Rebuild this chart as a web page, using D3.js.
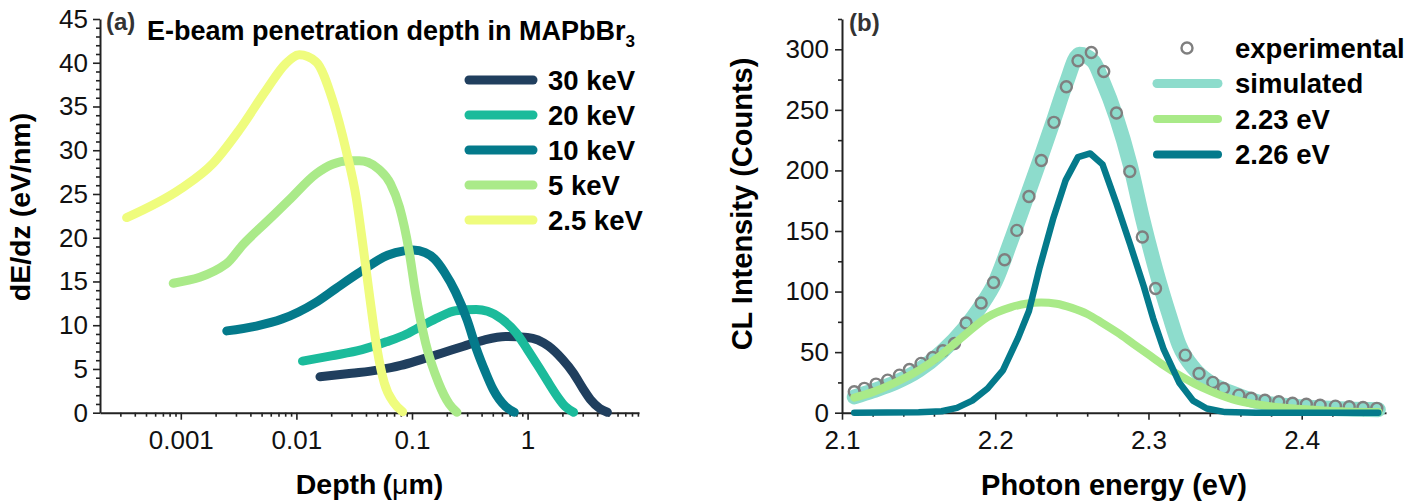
<!DOCTYPE html>
<html>
<head>
<meta charset="utf-8">
<script src="https://cdn.jsdelivr.net/npm/d3@7"></script>
<style>
  body { margin: 0; background: #fff; }
  text { font-family: "Liberation Sans", Arial, sans-serif; }
</style>
</head>
<body>
<div class="chart"></div>
<script>
const W = 1424, H = 504;

// ---- panel (a): e-beam energy loss vs depth ----
const beamLabels = ["30 keV", "20 keV", "10 keV", "5 keV", "2.5 keV"];
const beamColors = ["#203f5e", "#1bbb9b", "#047a8b", "#aaea89", "#effc7d"];

const depth30 = [0.016, 0.03, 0.052, 0.08, 0.121, 0.18, 0.28, 0.42, 0.645, 1.0, 1.52, 2.0, 2.5, 3.0, 3.5, 4.2, 4.9];
const dEdz30  = [4.1, 4.5, 4.9, 5.4, 6.1, 6.8, 7.6, 8.3, 8.7, 8.6, 7.6, 6.1, 4.5, 2.8, 1.5, 0.5, 0.05];

const depth20 = [0.0113, 0.02, 0.037, 0.06, 0.09, 0.121, 0.17, 0.238, 0.36, 0.45, 0.6, 0.8, 1.0, 1.25, 1.52, 1.8, 2.12, 2.5];
const dEdz20  = [5.9, 6.5, 7.2, 8.1, 9.0, 9.9, 10.9, 11.65, 11.8, 11.6, 10.7, 9.1, 7.2, 5.2, 3.4, 1.9, 0.7, 0.05];

const depth10 = [0.0025, 0.0045, 0.0075, 0.0147, 0.022, 0.034, 0.0615, 0.085, 0.102, 0.13, 0.156, 0.19, 0.238, 0.3, 0.363, 0.43, 0.506, 0.645, 0.767];
const dEdz10  = [9.35, 9.9, 10.7, 12.6, 14.2, 15.9, 18.0, 18.5, 18.6, 18.3, 17.6, 16.1, 13.8, 10.6, 7.2, 4.7, 2.6, 0.7, 0.05];

const depth5 = [0.00086, 0.00247, 0.0035, 0.0055, 0.00865, 0.0148, 0.0205, 0.0285, 0.035, 0.042, 0.052, 0.065, 0.078, 0.094, 0.107, 0.131, 0.17, 0.21, 0.245];
const dEdz5  = [14.8, 17.0, 19.3, 21.8, 24.3, 27.3, 28.4, 28.8, 28.8, 28.6, 27.8, 26.2, 23.5, 18.6, 13.8, 8.0, 3.4, 1.0, 0.05];

const depth25 = [0.00034, 0.001, 0.0019, 0.0032, 0.0055, 0.0081, 0.0106, 0.0148, 0.0206, 0.0269, 0.033, 0.038, 0.0433, 0.05, 0.0576, 0.07, 0.083];
const dEdz25  = [22.3, 25.6, 28.5, 32.3, 36.9, 39.9, 40.9, 40.1, 35.7, 30.0, 24.5, 18.7, 13.0, 7.2, 3.4, 1.1, 0.1];

const depthTicks = [0.001, 0.01, 0.1, 1];
const depthTickLabels = ["0.001", "0.01", "0.1", "1"];
const dEdzTicks = [0, 5, 10, 15, 20, 25, 30, 35, 40, 45];

// ---- panel (b): CL spectrum ----
const expEnergy = [2.108, 2.1146, 2.1222, 2.1298, 2.1375, 2.144, 2.1516, 2.1592, 2.1658, 2.1734, 2.181, 2.1908,
  2.1989, 2.2061, 2.2141, 2.222, 2.2301, 2.2383, 2.2464, 2.254, 2.2627, 2.2708, 2.2791, 2.2878, 2.296, 2.3046,
  2.324, 2.333, 2.342, 2.349, 2.359, 2.367, 2.376, 2.385, 2.394, 2.403, 2.412, 2.422, 2.431, 2.44, 2.449];
const expCounts = [17.3, 20.1, 23.6, 26.9, 31, 35.7, 40.7, 45.6, 51.1, 57.1, 74.1, 90.6,
  107.5, 126.3, 150.5, 178.5, 208.2, 239.7, 269.1, 290.5, 297.4, 281.7, 247.4, 199.1, 145, 102.5,
  47.5, 32.4, 25, 20, 14.5, 11.9, 10.3, 9, 7.8, 7, 6.2, 5.4, 4.9, 4.3, 3.6];

const simEnergy = [2.108, 2.12, 2.135, 2.15, 2.165, 2.18, 2.19, 2.2, 2.21, 2.22, 2.229, 2.238, 2.246, 2.255, 2.264,
  2.27, 2.279, 2.288, 2.296, 2.305, 2.314, 2.32, 2.33, 2.34, 2.355, 2.37, 2.39, 2.41, 2.43, 2.45];
const simCounts = [13, 18, 25, 35, 50, 70, 87, 108, 141, 176, 208, 241, 271, 296, 290,
  274, 244, 205, 161, 117, 79, 56, 36, 25, 16, 9.5, 6, 4, 3, 2.5];

const e223Energy = [2.108, 2.12, 2.135, 2.15, 2.165, 2.18, 2.195, 2.21, 2.22, 2.23, 2.24, 2.25, 2.26, 2.27,
  2.28, 2.29, 2.3, 2.31, 2.32, 2.33, 2.34, 2.355, 2.37, 2.385, 2.4, 2.42, 2.45];
const e223Counts = [12.5, 17, 25, 35, 48, 64, 79, 87, 90, 91, 90, 86.5, 81.5, 74,
  66, 57, 48, 39, 31, 24, 18, 11, 7, 4.5, 3, 1.5, 0.5];

const e226Energy = [2.108, 2.15, 2.165, 2.175, 2.185, 2.195, 2.205, 2.215, 2.222, 2.229, 2.238, 2.246, 2.254, 2.262,
  2.27, 2.279, 2.288, 2.297, 2.303, 2.31, 2.32, 2.329, 2.338, 2.35, 2.37, 2.45];
const e226Counts = [0, 0.3, 1.2, 4, 10, 20, 35, 62, 84, 120, 161, 192, 211, 214,
  205, 173, 139, 104, 78, 52, 25, 10, 3.5, 0.5, 0, 0];

const energyTicks = [2.1, 2.2, 2.3, 2.4];
const countTicks = [0, 50, 100, 150, 200, 250, 300];
const specLabels = ["experimental", "simulated", "2.23 eV", "2.26 eV"];
const specColors = ["#7f7f7f", "#8ddccc", "#a9ea88", "#047a8b"];

const svg = d3.select(".chart").append("svg")
  .attr("width", W)
  .attr("height", H);

function styleAxis(g, size) {
  g.attr("font-size", size).attr("font-family", "Liberation Sans, Arial, sans-serif");
  g.select(".domain").attr("stroke", "#222").attr("stroke-width", 2);
  g.selectAll(".tick line").attr("stroke", "#222").attr("stroke-width", 1.6);
  g.selectAll(".tick text").attr("fill", "#111");
}

// ================= panel (a) =================
const xA = d3.scaleLog().domain([0.0002, 9.2]).range([100, 639]);
const yA = d3.scaleLinear().domain([0, 45]).range([412.7, 19]);

let depthMinor = [];
for (let e = -4; e <= 0; e++)
  for (let k = 2; k <= 9; k++) {
    const v = k * Math.pow(10, e);
    if (v > 0.0002 && v < 9.2) depthMinor.push(v);
  }
const dEdzMinor = d3.range(0, 46).filter(v => v % 5 != 0);

svg.append("g").attr("transform", `translate(0,${yA(0)})`)
  .call(d3.axisBottom(xA).tickValues(depthMinor).tickSize(4).tickFormat(""))
  .call(g => g.select(".domain").remove())
  .call(g => styleAxis(g, 26));
svg.append("g").attr("transform", `translate(0,${yA(0)})`)
  .call(d3.axisBottom(xA).tickValues(depthTicks).tickSize(7).tickSizeOuter(0).tickPadding(11)
    .tickFormat((d, i) => depthTickLabels[i]))
  .call(g => styleAxis(g, 26));

svg.append("g").attr("transform", `translate(${xA.range()[0]},0)`)
  .call(d3.axisLeft(yA).tickValues(dEdzMinor).tickSize(4).tickFormat(""))
  .call(g => g.select(".domain").remove())
  .call(g => styleAxis(g, 26));
svg.append("g").attr("transform", `translate(${xA.range()[0]},0)`)
  .call(d3.axisLeft(yA).tickValues(dEdzTicks).tickSize(7).tickSizeOuter(0).tickPadding(5))
  .call(g => styleAxis(g, 26));

const beams = [
  {depth: depth30, val: dEdz30},
  {depth: depth20, val: dEdz20},
  {depth: depth10, val: dEdz10},
  {depth: depth5, val: dEdz5},
  {depth: depth25, val: dEdz25}
];

const lineA = d3.line().curve(d3.curveMonotoneX);
beams.forEach((b, i) => {
  svg.append("path")
    .attr("d", lineA(b.depth.map((d, j) => [xA(d), yA(b.val[j])])))
    .attr("fill", "none")
    .attr("stroke", beamColors[i])
    .attr("stroke-width", 9)
    .attr("stroke-linecap", "round")
    .attr("stroke-linejoin", "round");
});

// legend (a)
beamLabels.forEach((lab, i) => {
  const ly = 80 + i * 35;
  svg.append("line")
    .attr("x1", 469).attr("x2", 533).attr("y1", ly).attr("y2", ly)
    .attr("stroke", beamColors[i]).attr("stroke-width", 9).attr("stroke-linecap", "round");
  svg.append("text").attr("x", 548).attr("y", ly).attr("dy", "0.36em")
    .attr("font-size", 27.5).attr("font-weight", "bold").text(lab);
});

svg.append("text").attr("x", 106).attr("y", 30)
  .attr("font-size", 24).attr("font-weight", "bold").attr("fill", "#333").text("(a)");
const title = svg.append("text").attr("x", 147).attr("y", 40)
  .attr("font-size", 27).attr("font-weight", "bold");
title.append("tspan").text("E-beam penetration depth in MAPbBr");
title.append("tspan").attr("font-size", 17).attr("dy", 7).text("3");

const xTitleA = svg.append("text").attr("x", (xA.range()[0] + xA.range()[1]) / 2).attr("y", 494)
  .attr("text-anchor", "middle").attr("font-size", 28.5).attr("font-weight", "bold");
xTitleA.append("tspan").text("Depth");
xTitleA.append("tspan").attr("dx", 6).text("(");
xTitleA.append("tspan").attr("font-weight", "normal").text("μ");
xTitleA.append("tspan").text("m)");

svg.append("text")
  .attr("transform", "translate(20,207) rotate(-90)")
  .attr("text-anchor", "middle").attr("dy", "0.35em")
  .attr("font-size", 28.5).attr("font-weight", "bold")
  .text("dE/dz (eV/nm)");

// ================= panel (b) =================
const xB = d3.scaleLinear().domain([2.1, 2.455]).range([842, 1386]);
const yB = d3.scaleLinear().domain([0, 325]).range([412.7, 19]);

const energyMinor = d3.range(2.12, 2.45, 0.02).filter(v => Math.abs(v * 10 - Math.round(v * 10)) > 0.01);
const countMinor = [25, 75, 125, 175, 225, 275, 325];

svg.append("g").attr("transform", `translate(0,${yB(0)})`)
  .call(d3.axisBottom(xB).tickValues(energyMinor).tickSize(4).tickFormat(""))
  .call(g => g.select(".domain").remove())
  .call(g => styleAxis(g, 26));
svg.append("g").attr("transform", `translate(0,${yB(0)})`)
  .call(d3.axisBottom(xB).tickValues(energyTicks).tickSize(7).tickSizeOuter(0).tickPadding(11)
    .tickFormat(d3.format(".1f")))
  .call(g => styleAxis(g, 26));

svg.append("g").attr("transform", `translate(${xB.range()[0]},0)`)
  .call(d3.axisLeft(yB).tickValues(countMinor).tickSize(4).tickFormat(""))
  .call(g => g.select(".domain").remove())
  .call(g => styleAxis(g, 26));
svg.append("g").attr("transform", `translate(${xB.range()[0]},0)`)
  .call(d3.axisLeft(yB).tickValues(countTicks).tickSize(7).tickSizeOuter(0).tickPadding(6))
  .call(g => styleAxis(g, 26));

const lineB = d3.line().curve(d3.curveMonotoneX);
const lineLin = d3.line();

svg.append("path")
  .attr("d", lineB(simEnergy.map((e, i) => [xB(e), yB(simCounts[i])])))
  .attr("fill", "none").attr("stroke", specColors[1]).attr("stroke-width", 15)
  .attr("stroke-linecap", "round").attr("stroke-linejoin", "round");

svg.append("g").selectAll("circle")
  .data(expEnergy)
  .join("circle")
  .attr("cx", d => xB(d))
  .attr("cy", (d, i) => yB(expCounts[i]))
  .attr("r", 5.5)
  .attr("fill", "none")
  .attr("stroke", specColors[0])
  .attr("stroke-width", 2.4);

svg.append("path")
  .attr("d", lineB(e223Energy.map((e, i) => [xB(e), yB(e223Counts[i])])))
  .attr("fill", "none").attr("stroke", specColors[2]).attr("stroke-width", 8)
  .attr("stroke-linecap", "round").attr("stroke-linejoin", "round");

svg.append("path")
  .attr("d", lineLin(e226Energy.map((e, i) => [xB(e), yB(e226Counts[i])])))
  .attr("fill", "none").attr("stroke", specColors[3]).attr("stroke-width", 6.5)
  .attr("stroke-linecap", "round").attr("stroke-linejoin", "round");

// legend (b)
svg.append("circle").attr("cx", 1187).attr("cy", 48).attr("r", 5.5)
  .attr("fill", "none").attr("stroke", specColors[0]).attr("stroke-width", 2.4);
[1, 2, 3].forEach(i => {
  svg.append("line")
    .attr("x1", 1157).attr("x2", 1218)
    .attr("y1", 48 + i * 35.5).attr("y2", 48 + i * 35.5)
    .attr("stroke", specColors[i]).attr("stroke-width", i == 1 ? 9 : 8)
    .attr("stroke-linecap", "round");
});
specLabels.forEach((lab, i) => {
  svg.append("text").attr("x", 1235).attr("y", 48 + i * 35.5).attr("dy", "0.36em")
    .attr("font-size", 27.5).attr("font-weight", "bold").text(lab);
});

svg.append("text").attr("x", 849).attr("y", 31)
  .attr("font-size", 24).attr("font-weight", "bold").attr("fill", "#333").text("(b)");

svg.append("text").attr("x", (xB.range()[0] + xB.range()[1]) / 2).attr("y", 495)
  .attr("text-anchor", "middle").attr("font-size", 29).attr("font-weight", "bold")
  .text("Photon energy (eV)");

svg.append("text")
  .attr("transform", "translate(742,204) rotate(-90)")
  .attr("text-anchor", "middle").attr("dy", "0.35em")
  .attr("font-size", 29).attr("font-weight", "bold")
  .text("CL Intensity (Counts)");
</script>
</body>
</html>
